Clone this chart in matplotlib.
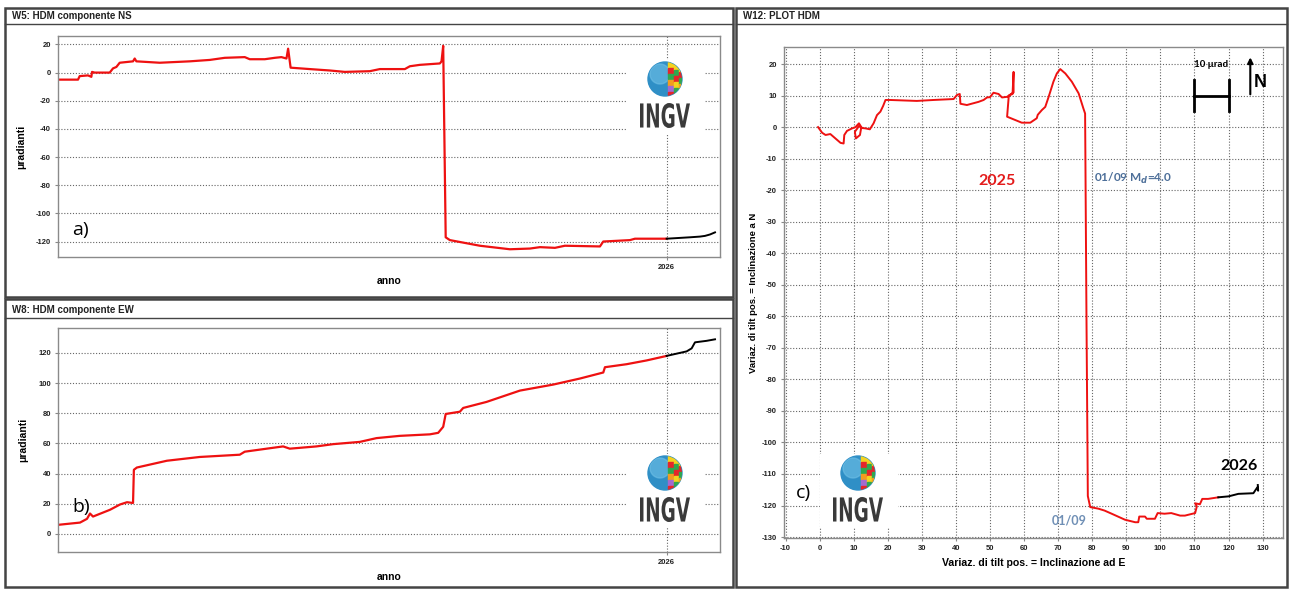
import numpy as np
import pandas as pd
import matplotlib
matplotlib.use("Agg")
import matplotlib.pyplot as plt
from matplotlib.patches import Rectangle, Circle, PathPatch
from matplotlib.lines import Line2D
from matplotlib.textpath import TextPath
from matplotlib.font_manager import FontProperties
from matplotlib.transforms import Affine2D

plt.rcParams['font.family'] = ['Liberation Sans', 'DejaVu Sans']
plt.rcParams['font.weight'] = 'bold'
plt.rcParams['axes.unicode_minus'] = False

W, H = 1290, 590

# --- W5: componente NS (giorni dal 01/01/2025, microradianti)
ns_days = [0, 12, 13, 18, 20, 20.4, 22, 31, 33, 35, 37, 45, 46, 47, 61, 79, 91, 100,
           112, 115, 124, 130, 134, 137, 138, 139.5, 151, 163, 172, 187, 193, 208, 211,
           217, 229, 230, 231, 232.5, 235, 253, 271, 283, 289, 298, 304, 325, 327, 343,
           346, 365]
ns_vals = [-5, -5, -2.5, -2, -3, 0.5, 0, 0, 3, 4, 7, 8, 10, 8, 7, 8, 9, 10.5,
           11, 9.5, 9.5, 10.5, 11, 10, 17, 3.5, 2.5, 1.5, 0.5, 1, 2.5, 2.5, 4.5,
           5.5, 6.5, 8, 19, -117, -119, -123, -125.5, -125, -124, -124.5, -123, -123.5, -120, -119,
           -118, -118]
ns_days_26 = [365, 379, 385, 388, 391, 394]
ns_vals_26 = [-118, -117, -116.5, -116, -115, -113.5]

# --- W8: componente EW
ew_days = [0, 13.2, 17.4, 19.2, 21, 31.2, 37.2, 41.4, 45, 45.5, 47.3, 65.3, 85, 109, 112,
           135, 139, 155, 165, 181, 191, 205, 223, 228, 231, 232.5, 241, 243, 257, 277,
           297, 313, 327, 328, 341, 353, 365]
ew_vals = [6, 7.5, 10, 13.5, 11.5, 16, 19.5, 21, 20.5, 42.5, 44, 48.5, 51, 52.5, 54.5,
           58, 56.5, 58, 59.5, 61, 63.5, 65, 66, 67, 71, 79.5, 81, 83.5, 87.5, 95,
           99, 103, 107, 110.5, 112.5, 115, 118]
ew_days_26 = [365, 371, 377, 380, 382, 389, 394]
ew_vals_26 = [118, 119.5, 121, 123, 127, 128, 129]

# --- W12: plot HDM (E, N)
c_e = [-0.5, 0.7, 1.7, 3.1, 4.6, 6.1, 7, 7.2, 8, 9.5, 10.5, 11.5, 12.2, 11.8, 10.6, 10.3,
       11.5, 12.5, 13.4, 14.7, 15.8, 16.8, 17.8, 18.6, 19.3, 20.7, 28.5, 33.4, 39.3, 40.3,
       41.1, 41.3, 43.2, 44.2, 46.6, 48.1, 49.1, 50, 51, 52.5, 53.5, 55, 55.9, 56.6, 56.9,
       56.9, 55.5, 55, 59.3, 61.8, 63.7, 64, 65.2, 66.2, 67.2, 68.6, 69.6, 70.6, 72.1, 74,
       76, 77.4, 77.9, 78.3, 78.7, 79.4, 81.8, 83.6, 85.7, 89.6, 92.6, 93.5, 93.8, 95.5, 96,
       98.4, 99.2, 101.2, 103.2, 105.8, 107.2, 110.2, 110.7, 110.2, 111.6, 112.3, 114, 117]
c_n = [0, -1.8, -2.5, -2.2, -3.6, -5, -5.2, -2.5, -1.2, -0.4, 0, 1.2, 0, -2.5, -3.6, -1.5,
       0.3, -0.3, -0.4, -0.7, 1.2, 3.8, 4.9, 6.7, 8.6, 8.6, 8.3, 8.6, 8.9, 10.2,
       10.5, 7.4, 7, 7.3, 8, 8.6, 9.4, 9.5, 10.9, 10.5, 9.4, 9.6, 10.2, 10.5, 17.5,
       11, 10, 3.3, 1.4, 1.4, 2.8, 3.9, 5.4, 6.4, 9.6, 14.4, 17, 18.4, 17, 14.4,
       10.7, 5.9, 4.3, -60, -117, -120.5, -121, -121.6, -122.6, -124.5, -125.3, -125.3, -123.5, -123.5, -124.2,
       -124.2, -122.4, -122.6, -122.4, -123.2, -123.2, -122.4, -120.3, -119.3, -119.6, -117.9, -117.9, -117.4]
c_e_26 = [117, 120, 122.9, 127.3, 127.8, 128.5, 128.7, 128.6]
c_n_26 = [-117.4, -117.1, -116.3, -116.1, -115.3, -114.2, -115.3, -113.5]

t0 = pd.Timestamp('2025-01-01')


def to_dates(days):
    return t0 + pd.to_timedelta(np.array(days), unit='D')


def fbox(l, t, r, b):
    return [l / W, 1 - b / H, (r - l) / W, (b - t) / H]


def panel_frame(fig, l, t, r, b, sep, title):
    fig.add_artist(Rectangle((l / W, 1 - b / H), (r - l) / W, (b - t) / H,
                             transform=fig.transFigure, fill=False, ec='#444', lw=1.8))
    fig.add_artist(Line2D([l / W, r / W], [1 - sep / H] * 2, transform=fig.transFigure,
                          color='#444', lw=1.0))
    fig.text((l + 7) / W, 1 - (sep - 8) / H, title, fontsize=7, va='center', ha='left',
             color='#222', fontweight='bold')


def style_axes(ax):
    for s in ax.spines.values():
        s.set_color('#8a8a8a')
        s.set_linewidth(1.0)
    ax.tick_params(length=2, color='#888', labelsize=5.5, pad=3, labelcolor='#222')
    for lbl in ax.get_xticklabels() + ax.get_yticklabels():
        lbl.set_fontweight('bold')
    ax.grid(True, ls=(0, (1, 1.6)), color='#666', lw=0.8)
    ax.set_axisbelow(True)


def add_logo(fig, left, top):
    w, h = 78, 74
    lax = fig.add_axes(fbox(left, top, left + w, top + h), zorder=3)
    lax.set_xlim(0, w)
    lax.set_ylim(h, 0)
    lax.set_xticks([])
    lax.set_yticks([])
    for s in lax.spines.values():
        s.set_visible(False)
    lax.set_facecolor('white')
    globe = Circle((38, 19), 17, color='#2f8fc6')
    lax.add_patch(globe)
    lax.add_patch(Circle((33, 14), 10, color='#6fc0e6', alpha=0.6, clip_path=globe))
    tiles = ['#f4d21f', '#e4262b', '#2fa84f', '#f39c1f', '#a36ad0', '#e4262b',
             '#f4d21f', '#2fa84f', '#e4262b', '#f4d21f', '#2fa84f', '#a36ad0']
    k = 0
    for col, x0 in enumerate([41, 47, 52]):
        for y0 in range(2, 38, 6):
            r = Rectangle((x0, y0 + 2 * col), 6, 6, color=tiles[k % len(tiles)])
            lax.add_patch(r)
            r.set_clip_path(globe)
            k += 1
    tp = TextPath((0, 0), 'INGV', size=1,
                  prop=FontProperties(family='DejaVu Sans', weight='bold'))
    ext = tp.get_extents()
    tr = (Affine2D().translate(-ext.x0, -ext.y0).scale(50 / ext.width, -25 / ext.height)
          .translate(38 - 25, 68) + lax.transData)
    lax.add_patch(PathPatch(tp, transform=tr, color='#3a3a3a', lw=0))


fig = plt.figure(figsize=(W / 100, H / 100), dpi=100)
fig.patch.set_facecolor('white')

panel_frame(fig, 5, 8, 733, 297, 24, 'W5: HDM componente NS')
panel_frame(fig, 5, 299, 733, 587, 318, 'W8: HDM componente EW')
panel_frame(fig, 736, 8, 1287, 587, 24, 'W12: PLOT HDM')

# a) NS
ax1 = fig.add_axes(fbox(58, 36, 720, 257))
ax1.plot(to_dates(ns_days), ns_vals, color='#ee1111', lw=1.6)
ax1.plot(to_dates(ns_days_26), ns_vals_26, color='black', lw=1.4)
ax1.set_xlim(t0, t0 + pd.Timedelta(days=397))
ax1.set_ylim(-131, 26)
ax1.set_yticks(np.arange(-120, 21, 20))
ax1.set_xticks([pd.Timestamp('2026-01-01')])
ax1.set_xticklabels(['2026'])
ax1.set_ylabel('\u03bcradianti', fontsize=7.5, labelpad=7, fontweight='bold')
ax1.set_xlabel('anno', fontsize=7.5, labelpad=4, fontweight='bold')
style_axes(ax1)
ax1.text(0.022, 0.12, 'a)', transform=ax1.transAxes, fontsize=14, fontweight='normal',
         family='Open Sans', va='center')

# b) EW
ax2 = fig.add_axes(fbox(58, 328, 720, 552))
ax2.plot(to_dates(ew_days), ew_vals, color='#ee1111', lw=1.6)
ax2.plot(to_dates(ew_days_26), ew_vals_26, color='black', lw=1.4)
ax2.set_xlim(t0, t0 + pd.Timedelta(days=397))
ax2.set_ylim(-12, 136.5)
ax2.set_yticks(np.arange(0, 121, 20))
ax2.set_xticks([pd.Timestamp('2026-01-01')])
ax2.set_xticklabels(['2026'])
ax2.set_ylabel('\u03bcradianti', fontsize=7.5, labelpad=7, fontweight='bold')
ax2.set_xlabel('anno', fontsize=7.5, labelpad=4, fontweight='bold')
style_axes(ax2)
ax2.text(0.022, 0.2, 'b)', transform=ax2.transAxes, fontsize=14, fontweight='normal',
         family='Open Sans', va='center')

# c) plot HDM
ax3 = fig.add_axes(fbox(784, 47, 1283, 538))
ax3.plot(c_e, c_n, color='#ee1111', lw=1.4)
ax3.plot(c_e_26, c_n_26, color='black', lw=1.4)
ax3.set_xlim(-10.5, 136)
ax3.set_ylim(-130.3, 25.4)
ax3.set_xticks(np.arange(-10, 131, 10))
ax3.set_yticks(np.arange(-130, 21, 10))
ax3.set_xlabel('Variaz. di tilt pos. = Inclinazione ad E', fontsize=7.6, labelpad=4,
               fontweight='bold')
ax3.set_ylabel('Variaz. di tilt pos. = Inclinazione a N', fontsize=6.8, labelpad=3,
               fontweight='bold')
style_axes(ax3)
ax3.text(52, -17, '2025', color='#e31b1b', fontsize=11.5, ha='center', va='center',
         family='Lato', fontweight='bold')
ax3.text(80.5, -16.2, '01/09 M$_d$=4.0', color='#4d6f99', fontsize=8.5, ha='left',
         va='center', family='Lato', fontweight='bold')
ax3.text(73.3, -124.8, '01/09', color='#6f8fb5', fontsize=9, ha='center', va='center',
         family='Lato', fontweight='bold')
ax3.text(123, -107.6, '2026', color='black', fontsize=11.5, ha='center', va='center',
         family='Lato', fontweight='bold')
ax3.text(-4.7, -116, 'c)', fontsize=14, fontweight='normal', family='Open Sans',
         ha='center', va='center')
# scala 10 urad e freccia N
ax3.plot([110, 120], [10, 10], color='black', lw=2)
ax3.plot([110, 110], [5, 15], color='black', lw=2)
ax3.plot([120, 120], [5, 15], color='black', lw=2)
ax3.text(115, 19.7, '10 \u03bcrad', fontsize=7, ha='center', va='center', family='Lato',
         fontweight='bold')
ax3.annotate('', xy=(126.4, 23), xytext=(126.4, 9.5),
             arrowprops=dict(arrowstyle='-|>', color='black', lw=1.5, mutation_scale=8))
ax3.text(129.3, 14, 'N', fontsize=13, ha='center', va='center', fontweight='bold')

add_logo(fig, 627, 60)
add_logo(fig, 627, 454)
add_logo(fig, 820, 454)

fig.savefig('out.png', dpi=100, facecolor='white')
